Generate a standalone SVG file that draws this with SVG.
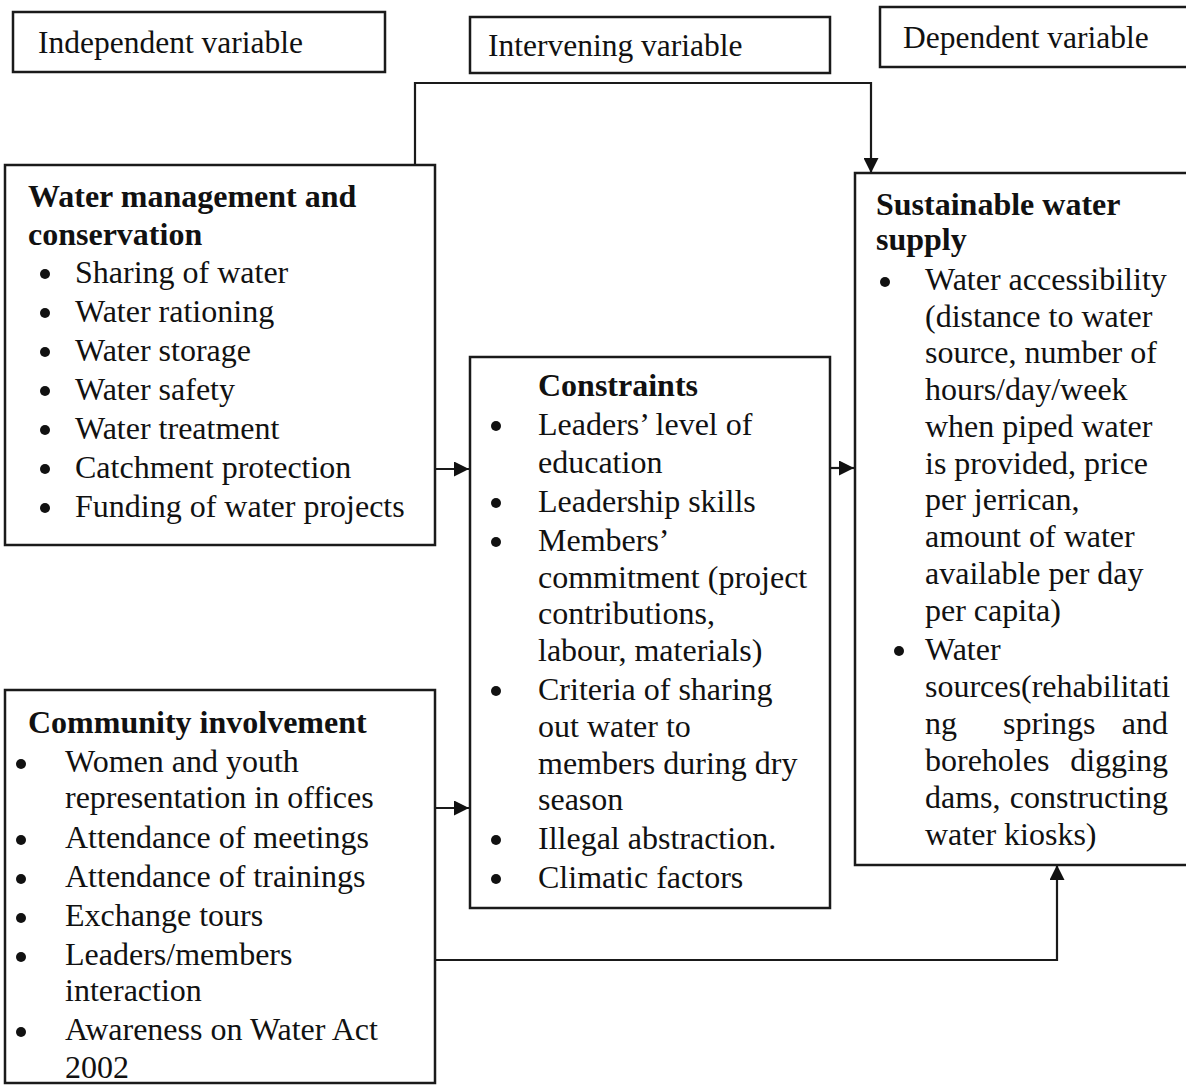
<svg xmlns="http://www.w3.org/2000/svg" width="1186" height="1086" viewBox="0 0 1186 1086">
<style>
.box{fill:#fff;stroke:#1a1a1a;stroke-width:2.5}
.t{font-family:"Liberation Serif","Times New Roman",serif;font-size:32px;fill:#111}
.h{font-family:"Liberation Serif","Times New Roman",serif;font-size:31.5px;fill:#111}
.b{font-weight:bold}
.c{fill:none;stroke:#1a1a1a;stroke-width:2.2}
.dot{fill:#111}
</style>
<defs>
<marker id="ah" viewBox="0 0 10 10" refX="10" refY="5" markerWidth="17" markerHeight="15" markerUnits="userSpaceOnUse" orient="auto">
<path d="M0,0 L10,5 L0,10 Z" fill="#111"/>
</marker>
</defs>
<rect width="1186" height="1086" fill="#fff"/>
<g id="hdr-independent">
<rect class="box" x="13" y="12" width="372" height="60"/>
<text class="h" x="38" y="53">Independent variable</text>
</g>
<g id="hdr-intervening">
<rect class="box" x="470" y="17" width="360" height="56"/>
<text class="h" x="488" y="56">Intervening variable</text>
</g>
<g id="hdr-dependent">
<rect class="box" x="880" y="7" width="310" height="60"/>
<text class="h" x="903" y="48">Dependent variable</text>
</g>
<g id="connectors">
<path class="c" d="M415,165 V83 H871 V173" marker-end="url(#ah)"/>
<path class="c" d="M435,469 H469" marker-end="url(#ah)"/>
<path class="c" d="M830,468 H854" marker-end="url(#ah)"/>
<path class="c" d="M435,808 H469" marker-end="url(#ah)"/>
<path class="c" d="M435,960 H1057 V865" marker-end="url(#ah)"/>
</g>
<g id="water-management">
<rect class="box" x="5" y="165" width="430" height="380"/>
<text class="t b" x="28" y="207">Water management and</text>
<text class="t b" x="28" y="245">conservation</text>
<g class="dot"><circle cx="45" cy="274" r="5"/><circle cx="45" cy="313" r="5"/><circle cx="45" cy="352" r="5"/><circle cx="45" cy="391" r="5"/><circle cx="45" cy="430" r="5"/><circle cx="45" cy="469" r="5"/><circle cx="45" cy="508" r="5"/></g>
<text class="t" x="75" y="283">Sharing of water</text>
<text class="t" x="75" y="322">Water rationing</text>
<text class="t" x="75" y="361">Water storage</text>
<text class="t" x="75" y="400">Water safety</text>
<text class="t" x="75" y="439">Water treatment</text>
<text class="t" x="75" y="478">Catchment protection</text>
<text class="t" x="75" y="517">Funding of water projects</text>
</g>
<g id="constraints">
<rect class="box" x="470" y="357" width="360" height="551"/>
<text class="t b" x="538" y="396">Constraints</text>
<g class="dot"><circle cx="496" cy="426" r="5"/><circle cx="496" cy="503" r="5"/><circle cx="496" cy="542" r="5"/><circle cx="496" cy="691" r="5"/><circle cx="496" cy="840" r="5"/><circle cx="496" cy="879" r="5"/></g>
<text class="t" x="538" y="435">Leaders’ level of</text>
<text class="t" x="538" y="473">education</text>
<text class="t" x="538" y="512">Leadership skills</text>
<text class="t" x="538" y="551">Members’</text>
<text class="t" x="538" y="588">commitment (project</text>
<text class="t" x="538" y="624">contributions,</text>
<text class="t" x="538" y="661">labour, materials)</text>
<text class="t" x="538" y="700">Criteria of sharing</text>
<text class="t" x="538" y="737">out water to</text>
<text class="t" x="538" y="774">members during dry</text>
<text class="t" x="538" y="810">season</text>
<text class="t" x="538" y="849">Illegal abstraction.</text>
<text class="t" x="538" y="888">Climatic factors</text>
</g>
<g id="sustainable-supply">
<rect class="box" x="855" y="173" width="340" height="692"/>
<text class="t b" x="876" y="215">Sustainable water</text>
<text class="t b" x="876" y="250">supply</text>
<g class="dot"><circle cx="885" cy="282" r="5"/><circle cx="899" cy="651" r="5"/></g>
<text class="t" x="925" y="290">Water accessibility</text>
<text class="t" x="925" y="327">(distance to water</text>
<text class="t" x="925" y="363">source, number of</text>
<text class="t" x="925" y="400">hours/day/week</text>
<text class="t" x="925" y="437">when piped water</text>
<text class="t" x="925" y="474">is provided, price</text>
<text class="t" x="925" y="510">per jerrican,</text>
<text class="t" x="925" y="547">amount of water</text>
<text class="t" x="925" y="584">available per day</text>
<text class="t" x="925" y="621">per capita)</text>
<text class="t" x="925" y="660">Water</text>
<text class="t" x="925" y="697">sources(rehabilitati</text>
<text class="t" x="925" y="734">ng</text>
<text class="t" x="1003" y="734">springs</text>
<text class="t" x="1168" y="734" text-anchor="end">and</text>
<text class="t" x="925" y="771">boreholes</text>
<text class="t" x="1168" y="771" text-anchor="end">digging</text>
<text class="t" x="925" y="808">dams,</text>
<text class="t" x="1168" y="808" text-anchor="end">constructing</text>
<text class="t" x="925" y="845">water kiosks)</text>
</g>
<g id="community-involvement">
<rect class="box" x="5" y="690" width="430" height="393"/>
<text class="t b" x="28" y="733">Community involvement</text>
<g class="dot"><circle cx="21" cy="764" r="5"/><circle cx="21" cy="840" r="5"/><circle cx="21" cy="879" r="5"/><circle cx="21" cy="918" r="5"/><circle cx="21" cy="957" r="5"/><circle cx="21" cy="1032" r="5"/></g>
<text class="t" x="65" y="772">Women and youth</text>
<text class="t" x="65" y="808">representation in offices</text>
<text class="t" x="65" y="848">Attendance of meetings</text>
<text class="t" x="65" y="887">Attendance of trainings</text>
<text class="t" x="65" y="926">Exchange tours</text>
<text class="t" x="65" y="965">Leaders/members</text>
<text class="t" x="65" y="1001">interaction</text>
<text class="t" x="65" y="1040">Awareness on Water Act</text>
<text class="t" x="65" y="1078">2002</text>
</g>
</svg>
